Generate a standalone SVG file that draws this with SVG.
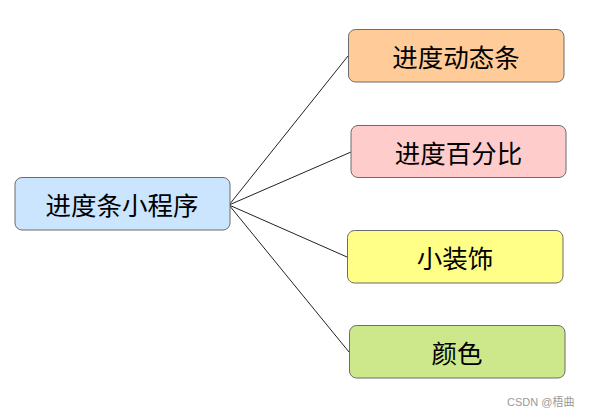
<svg xmlns="http://www.w3.org/2000/svg" width="589" height="417" viewBox="0 0 589 417">
<style>
.box{stroke:#6b6b6b;stroke-width:1}
.t{font-family:"Noto Sans CJK SC","Noto Sans",sans-serif;font-size:25.5px;font-weight:400;fill:#000;text-anchor:middle;dominant-baseline:central}
.conn{stroke:#222;stroke-width:1;fill:none}
.wm{font-family:"Liberation Sans","Noto Sans CJK SC",sans-serif;font-size:11px;fill:#999}
</style>
<rect width="589" height="417" fill="#fff"/>
<g id="connectors">
<line class="conn" x1="229" y1="205" x2="348" y2="56"/>
<line class="conn" x1="229" y1="205" x2="351" y2="152"/>
<line class="conn" x1="229" y1="205" x2="347" y2="257"/>
<line class="conn" x1="229" y1="205" x2="349" y2="352"/>
</g>
<g id="root">
<rect class="box" x="15" y="177.5" width="215" height="52.5" rx="7" fill="#cce5ff"/>
<text class="t" x="122" y="203">进度条小程序</text>
</g>
<g id="n1">
<rect class="box" x="348.5" y="29.5" width="215.5" height="52.5" rx="7" fill="#ffcc99"/>
<text class="t" x="456" y="55">进度动态条</text>
</g>
<g id="n2">
<rect class="box" x="351" y="125.5" width="215" height="52" rx="7" fill="#ffcccc"/>
<text class="t" x="458.5" y="151">进度百分比</text>
</g>
<g id="n3">
<rect class="box" x="347.5" y="230.5" width="215.5" height="52.5" rx="7" fill="#ffff88"/>
<text class="t" x="455" y="256">小装饰</text>
</g>
<g id="n4">
<rect class="box" x="349.5" y="325.5" width="215.5" height="52.5" rx="7" fill="#cde88a"/>
<text class="t" x="457" y="351">颜色</text>
</g>
<text class="wm" x="507" y="406">CSDN @梧曲</text>
</svg>
